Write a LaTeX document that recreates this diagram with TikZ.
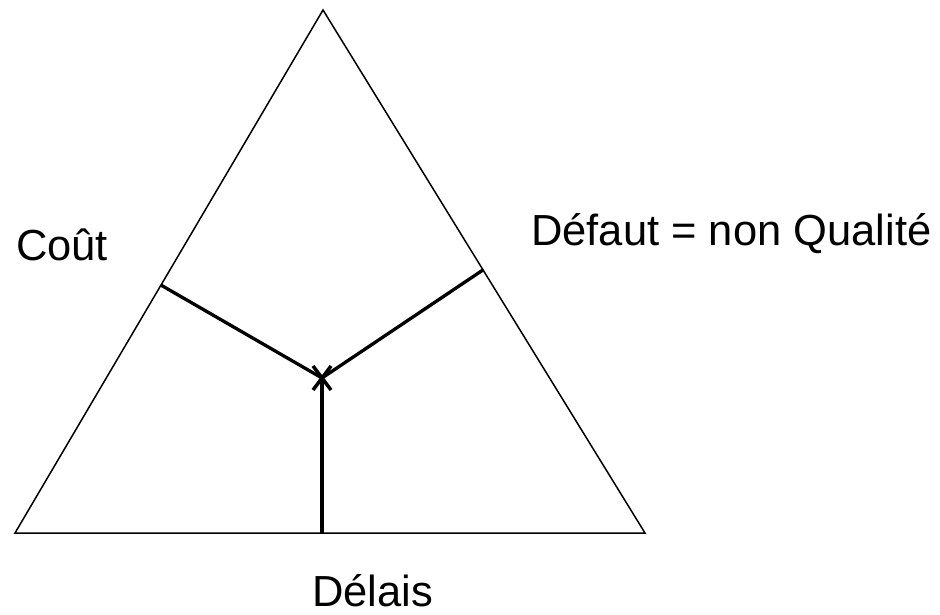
\documentclass[tikz,border=0pt]{standalone}
\usepackage{fontspec}
\setmainfont{Liberation Sans}
\usepackage{tikz}
\usetikzlibrary{calc}

\begin{document}
\begin{tikzpicture}[
x=1pt,
y=-1pt,
side/.style={
draw,
line width=1.5pt,
line join=miter
},
axis/.style={
draw,
line width=3.3pt
},
xmark/.style={
draw,
line width=3.5pt
},
txt/.style={
font=\fontsize{43.5}{50}\selectfont,
inner sep=0pt,
anchor=base west
}
]

\useasboundingbox (0,0) rectangle (940,615);

%%%%%%%%%%%%%%%%%%%%%%%%%%%%%%%%%%%%
% Triangle
%%%%%%%%%%%%%%%%%%%%%%%%%%%%%%%%%%%%

\coordinate (apex) at (323,10);
\coordinate (bl) at (15,533);
\coordinate (br) at (645,533);
\coordinate (ctr) at (322,378);

\draw[side] (apex) -- (br) -- (bl) -- cycle;

%%%%%%%%%%%%%%%%%%%%%%%%%%%%%%%%%%%%
% Axes to the centre
%%%%%%%%%%%%%%%%%%%%%%%%%%%%%%%%%%%%

\coordinate (cout) at ($(bl)!0.474!(apex)$);
\coordinate (defaut) at ($(br)!0.503!(apex)$);
\coordinate (delais) at (ctr |- bl);

\draw[axis] (cout) -- (ctr);

\draw[axis] (defaut) -- (ctr);

\draw[axis] (delais) -- (ctr);

\draw[xmark] ($(ctr)+(-9,-12)$) -- ($(ctr)+(9,12)$);
\draw[xmark] ($(ctr)+(9,-12)$) -- ($(ctr)+(-9,12)$);

%%%%%%%%%%%%%%%%%%%%%%%%%%%%%%%%%%%%
% Labels
%%%%%%%%%%%%%%%%%%%%%%%%%%%%%%%%%%%%

\node[txt] (lcout) at (16,260) {Coût};

\node[txt] (ldefaut) at (531,245) {Défaut = non Qualité};

\node[txt] (ldelais) at (312,606) {Délais};

\end{tikzpicture}
\end{document}
